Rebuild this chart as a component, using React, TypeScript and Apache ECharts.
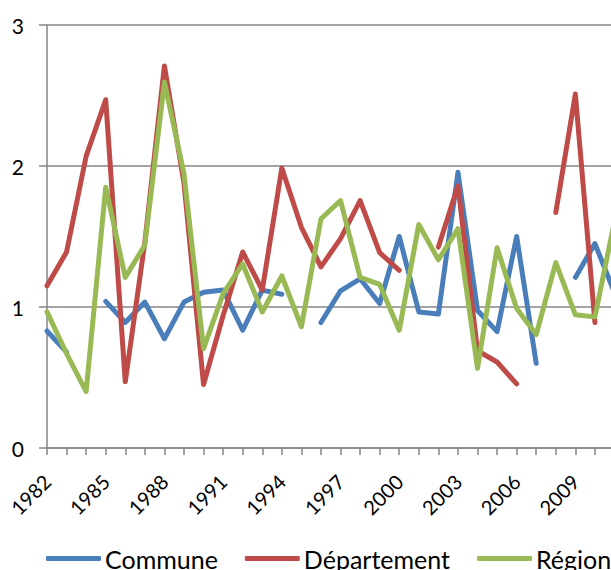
import React, { useEffect, useRef } from "react";
import * as echarts from "echarts";

const years: string[] = [];
for (let y = 1982; y <= 2011; y++) years.push(String(y));

const commune: (number | null)[] = [
  0.83, 0.68, null, 1.04, 0.89, 1.035, 0.775, 1.035, 1.105, 1.12,
  0.835, 1.12, 1.09, null, 0.89, 1.115, 1.2, 1.025, 1.5, 0.965,
  0.95, 1.955, 0.975, 0.825, 1.5, 0.6, null, 1.21, 1.45, 1.1,
];

const departement: (number | null)[] = [
  1.15, 1.39, 2.07, 2.47, 0.47, 1.46, 2.71, 1.88, 0.45, 0.94,
  1.39, 1.12, 1.985, 1.565, 1.285, 1.485, 1.755, 1.385, 1.26, null,
  1.425, 1.86, 0.69, 0.61, 0.455, null, 1.67, 2.51, 0.89, null,
];

const region: (number | null)[] = [
  0.965, 0.67, 0.4, 1.85, 1.21, 1.44, 2.595, 1.945, 0.705, 1.095,
  1.305, 0.965, 1.22, 0.86, 1.625, 1.755, 1.21, 1.16, 0.835, 1.585,
  1.335, 1.555, 0.565, 1.42, 0.99, 0.805, 1.315, 0.945, 0.93, 1.61,
];

const yTicks = [0, 1, 2, 3];

const FONT = "Lato, 'Open Sans', sans-serif";
const GRID_COLOR = "#868686";

export default function App() {
  const ref = useRef<HTMLDivElement>(null);
  useEffect(() => {
    if (!ref.current) return;
    const chart = echarts.init(ref.current, null, { renderer: "svg" });
    const mk = (name: string, data: (number | null)[], color: string) => ({
      name,
      type: "line",
      data,
      showSymbol: false,
      symbol: "none",
      connectNulls: false,
      color,
      lineStyle: { width: 5, color, cap: "round", join: "round" },
    });
    chart.setOption({
      animation: false,
      textStyle: { fontFamily: FONT },
      grid: { left: 47, top: 25, height: 423, width: 567.5 },
      legend: {
        left: 46,
        top: 546,
        padding: 0,
        icon: "roundRect",
        itemWidth: 55,
        itemHeight: 5,
        itemGap: 27,
        textStyle: { fontSize: 25, color: "#000", fontFamily: FONT, padding: [0, 0, 0, -1] },
        data: ["Commune", "Département", "Région"],
      },
      xAxis: {
        type: "category",
        data: years,
        boundaryGap: false,
        axisLine: { lineStyle: { color: GRID_COLOR, width: 1.5 } },
        axisTick: { show: true, interval: 0, length: 7, lineStyle: { color: GRID_COLOR, width: 1.5 } },
        axisLabel: {
          interval: 2,
          rotate: 45,
          fontSize: 20,
          color: "#000",
          fontFamily: FONT,
          margin: 30,
        },
        splitLine: { show: false },
      },
      yAxis: {
        type: "value",
        min: yTicks[0],
        max: yTicks[yTicks.length - 1],
        interval: 1,
        axisLine: { show: true, lineStyle: { color: GRID_COLOR, width: 1.5 } },
        axisTick: { show: true, length: 8, lineStyle: { color: GRID_COLOR, width: 1.5 } },
        axisLabel: { fontSize: 21, color: "#000", fontFamily: FONT, margin: 23 },
        splitLine: { show: true, lineStyle: { color: GRID_COLOR, width: 1.5 } },
      },
      series: [
        mk("Commune", commune, "#4A7EBB"),
        mk("Département", departement, "#BE4B48"),
        mk("Région", region, "#98B954"),
      ],
    });
    return () => chart.dispose();
  }, []);
  return (
    <div
      style={{
        position: "fixed",
        left: 0,
        top: 0,
        width: 611,
        height: 570,
        overflow: "hidden",
        background: "#fff",
      }}
    >
      <div ref={ref} style={{ width: 720, height: 570 }} />
    </div>
  );
}
